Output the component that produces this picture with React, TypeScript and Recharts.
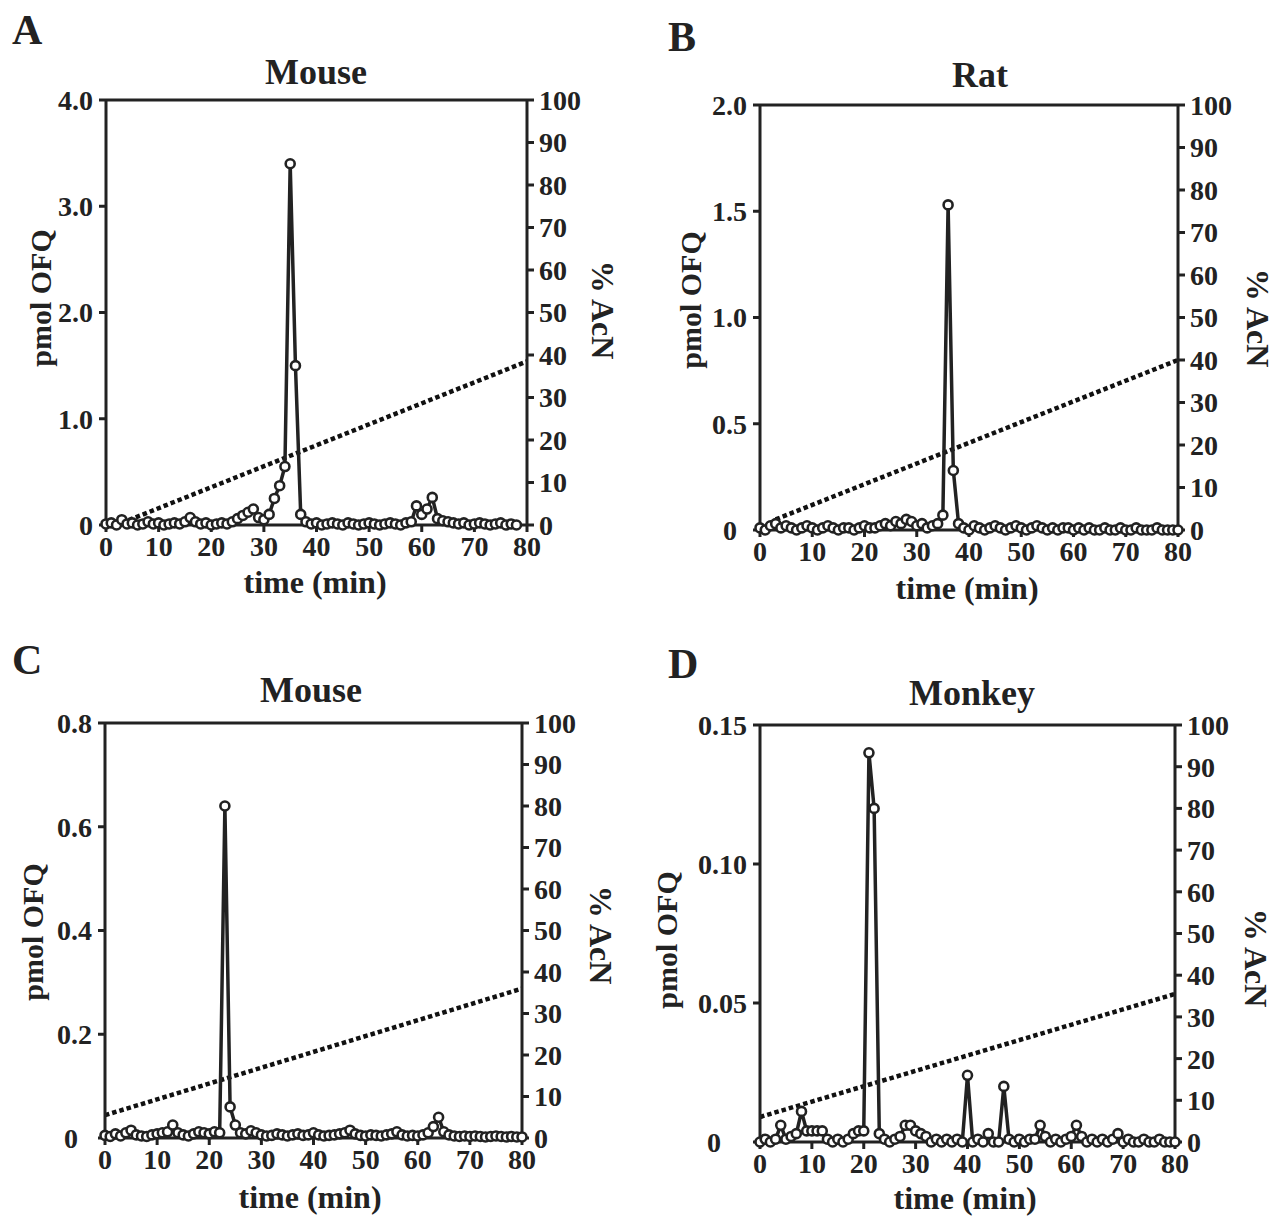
import React from 'react';
import { LineChart, Line, XAxis, YAxis, ReferenceLine } from 'recharts';

// ---------- data ----------
const TIME = [
  0, 1, 2, 3, 4, 5, 6, 7, 8, 9, 10, 11, 12, 13, 14, 15, 16, 17, 18, 19,
  20, 21, 22, 23, 24, 25, 26, 27, 28, 29, 30, 31, 32, 33, 34, 35, 36, 37, 38, 39,
  40, 41, 42, 43, 44, 45, 46, 47, 48, 49, 50, 51, 52, 53, 54, 55, 56, 57, 58, 59,
  60, 61, 62, 63, 64, 65, 66, 67, 68, 69, 70, 71, 72, 73, 74, 75, 76, 77, 78, 79, 80,
];

const OFQ_A = [
  0.01, 0.02, 0.0, 0.05, 0.01, 0.02, 0.0, 0.01, 0.03, 0.01,
  0.02, 0.0, 0.01, 0.02, 0.01, 0.03, 0.07, 0.03, 0.01, 0.02,
  0.0, 0.01, 0.02, 0.01, 0.03, 0.06, 0.09, 0.12, 0.15, 0.07,
  0.05, 0.1, 0.25, 0.37, 0.55, 3.4, 1.5, 0.1, 0.03, 0.01,
  0.02, 0.0, 0.01, 0.02, 0.01, 0.0, 0.02, 0.01, 0.0, 0.01,
  0.02, 0.01, 0.0, 0.01, 0.02, 0.01, 0.0, 0.02, 0.03, 0.18,
  0.1, 0.15, 0.26, 0.06, 0.04, 0.03, 0.02, 0.01, 0.02, 0.0,
  0.01, 0.02, 0.01, 0.0, 0.01, 0.02, 0.0, 0.01, 0.0,
];

const OFQ_B = [
  0.01, 0.0, 0.02, 0.03, 0.01, 0.02, 0.01, 0.0, 0.01, 0.02,
  0.01, 0.0, 0.01, 0.02, 0.01, 0.0, 0.01, 0.01, 0.0, 0.01,
  0.02, 0.01, 0.01, 0.02, 0.03, 0.02, 0.04, 0.03, 0.05, 0.04,
  0.02, 0.03, 0.01, 0.02, 0.03, 0.07, 1.53, 0.28, 0.03, 0.01,
  0.0, 0.02, 0.01, 0.0, 0.01, 0.02, 0.01, 0.0, 0.01, 0.02,
  0.01, 0.0, 0.01, 0.02, 0.01, 0.0, 0.01, 0.0, 0.01, 0.01,
  0.0, 0.01, 0.0, 0.01, 0.0, 0.0, 0.01, 0.0, 0.0, 0.01,
  0.0, 0.0, 0.01, 0.0, 0.0, 0.0, 0.01, 0.0, 0.0, 0.0,
  0.0,
];

const OFQ_C = [
  0.005, 0.003, 0.008, 0.004, 0.01, 0.015, 0.006, 0.004, 0.003, 0.006,
  0.008, 0.01, 0.012, 0.025, 0.01, 0.006, 0.004, 0.008, 0.012, 0.01,
  0.008, 0.012, 0.01, 0.64, 0.06, 0.025, 0.01, 0.008, 0.014, 0.01,
  0.006, 0.004, 0.005, 0.008, 0.006, 0.004, 0.006, 0.008, 0.005, 0.006,
  0.01, 0.006, 0.004, 0.005, 0.006, 0.008, 0.01, 0.015, 0.008, 0.005,
  0.004, 0.006, 0.005, 0.004, 0.006, 0.008, 0.012, 0.006, 0.004, 0.005,
  0.004, 0.006, 0.01, 0.022, 0.04, 0.012, 0.006, 0.004, 0.003, 0.004,
  0.003, 0.004, 0.003, 0.002, 0.003, 0.004, 0.003, 0.002, 0.003, 0.002,
  0.002,
];

const OFQ_D = [
  0.0, 0.001, 0.0, 0.001, 0.006, 0.001, 0.002, 0.003, 0.011, 0.004,
  0.004, 0.004, 0.004, 0.001, 0.0, 0.001, 0.0, 0.001, 0.003, 0.004,
  0.004, 0.14, 0.12, 0.003, 0.001, 0.0, 0.001, 0.002, 0.006, 0.006,
  0.004, 0.003, 0.002, 0.0, 0.001, 0.0, 0.001, 0.0, 0.001, 0.0,
  0.024, 0.0, 0.001, 0.0, 0.003, 0.0, 0.0, 0.02, 0.001, 0.0,
  0.001, 0.0, 0.001, 0.001, 0.006, 0.002, 0.0, 0.001, 0.0, 0.001,
  0.002, 0.006, 0.002, 0.0, 0.001, 0.0, 0.001, 0.0, 0.001, 0.003,
  0.0, 0.001, 0.0, 0.0, 0.001, 0.0, 0.0, 0.001, 0.0, 0.0,
  0.0,
];

// acetonitrile gradient (time, %)
const GRAD_TIME_A = [3, 80];
const GRAD_PCT_A = [0.5, 38.5];
const GRAD_TIME_B = [3, 80];
const GRAD_PCT_B = [2.5, 40];
const GRAD_TIME_C = [0, 80];
const GRAD_PCT_C = [5.5, 36];
const GRAD_TIME_D = [0, 80];
const GRAD_PCT_D = [6, 35.5];

const X_TICKS = [0, 10, 20, 30, 40, 50, 60, 70, 80];
const ACN_TICKS = [0, 10, 20, 30, 40, 50, 60, 70, 80, 90, 100];

const Y_TICKS_A = [0, 1, 2, 3, 4];
const Y_LABELS_A = ['0', '1.0', '2.0', '3.0', '4.0'];
const Y_TICKS_B = [0, 0.5, 1, 1.5, 2];
const Y_LABELS_B = ['0', '0.5', '1.0', '1.5', '2.0'];
const Y_TICKS_C = [0, 0.2, 0.4, 0.6, 0.8];
const Y_LABELS_C = ['0', '0.2', '0.4', '0.6', '0.8'];
const Y_TICKS_D = [0, 0.05, 0.1, 0.15];
const Y_LABELS_D = ['0', '0.05', '0.10', '0.15'];

const TITLES = ['Mouse', 'Rat', 'Mouse', 'Monkey'];
const LETTERS = ['A', 'B', 'C', 'D'];
const Y_TITLE = 'pmol OFQ';
const Y2_TITLE = '% AcN';
const X_TITLE = 'time (min)';

// ---------- helpers ----------
const zip = (ts: number[], vs: number[]) => vs.map((v, i) => ({ t: ts[i], v }));

const INK = '#222';
const FONT = '"Liberation Serif", "Times New Roman", serif';

type PanelCfg = {
  pl: number; pt: number; pr: number; pb: number;
  ofq: { t: number; v: number }[];
  grad: { t: number; v: number }[];
  yTicks: number[]; yLabels: string[];
  zeroDx: number;
};

const WL = 80, WR = 70, HX = 45;

function Panel({ cfg }: { cfg: PanelCfg }) {
  const { pl, pt, pr, pb } = cfg;
  const W = pr - pl + 200;
  const H = pb - pt + 80;
  const yMax = cfg.yTicks[cfg.yTicks.length - 1];
  const tickStyle = { fill: INK, fontSize: 28, fontFamily: FONT, fontWeight: 700 };
  const axisLine = { stroke: INK, strokeWidth: 3 };
  const tickLine = { stroke: INK, strokeWidth: 3 };
  const leftTick = (props: any) => {
    const { x, y, payload } = props;
    const v = payload.value;
    const i = cfg.yTicks.indexOf(v);
    const label = i >= 0 ? cfg.yLabels[i] : String(v);
    const dx = v === 0 ? cfg.zeroDx : 0;
    return (
      <text
        x={x + dx}
        y={y}
        dy="0.355em"
        textAnchor="end"
        fill={INK}
        fontSize={28}
        fontFamily={FONT}
        fontWeight={700}
      >
        {label}
      </text>
    );
  };
  return (
    <div style={{ position: 'absolute', left: pl - 100, top: pt - 20 }}>
      <LineChart
        width={W}
        height={H}
        margin={{ top: 20, left: 100 - WL, right: 100 - WR, bottom: 60 - HX }}
      >
        <XAxis
          dataKey="t"
          type="number"
          domain={[0, 80]}
          ticks={X_TICKS}
          interval={0}
          height={HX}
          tick={tickStyle}
          tickSize={7}
          tickMargin={4}
          axisLine={axisLine}
          tickLine={tickLine}
          allowDuplicatedCategory={false}
        />
        <YAxis
          yAxisId="left"
          type="number"
          domain={[0, yMax]}
          ticks={cfg.yTicks}
          interval={0}
          width={WL}
          tick={leftTick}
          tickSize={7}
          tickMargin={6}
          axisLine={axisLine}
          tickLine={tickLine}
        />
        <YAxis
          yAxisId="right"
          orientation="right"
          type="number"
          domain={[0, 100]}
          ticks={ACN_TICKS}
          interval={0}
          width={WR}
          tick={tickStyle}
          tickSize={7}
          tickMargin={5}
          axisLine={axisLine}
          tickLine={tickLine}
        />
        <ReferenceLine yAxisId="left" y={yMax} stroke={INK} strokeWidth={3} />
        <Line
          yAxisId="right"
          data={cfg.grad}
          dataKey="v"
          type="linear"
          stroke="#111"
          strokeWidth={4.5}
          strokeDasharray="4.5 3"
          dot={false}
          isAnimationActive={false}
        />
        <Line
          yAxisId="left"
          data={cfg.ofq}
          dataKey="v"
          type="linear"
          stroke={INK}
          strokeWidth={3.5}
          dot={{ r: 4.5, stroke: INK, strokeWidth: 2.6, fill: '#fff' }}
          isAnimationActive={false}
        />
      </LineChart>
    </div>
  );
}

function Txt({ x, y, size, children, rot = 0, left = false }: any) {
  return (
    <div
      style={{
        position: 'absolute',
        left: x,
        top: y,
        transform: left
          ? 'translate(0,-50%)'
          : `translate(-50%,-50%) rotate(${rot}deg)`,
        fontFamily: FONT,
        fontWeight: 700,
        fontSize: size,
        lineHeight: 1,
        whiteSpace: 'nowrap',
        color: INK,
      }}
    >
      {children}
    </div>
  );
}

const PANELS: PanelCfg[] = [
  { pl: 106, pt: 100, pr: 527, pb: 525, ofq: zip(TIME, OFQ_A), grad: zip(GRAD_TIME_A, GRAD_PCT_A), yTicks: Y_TICKS_A, yLabels: Y_LABELS_A, zeroDx: 0 },
  { pl: 760, pt: 105, pr: 1178, pb: 530, ofq: zip(TIME, OFQ_B), grad: zip(GRAD_TIME_B, GRAD_PCT_B), yTicks: Y_TICKS_B, yLabels: Y_LABELS_B, zeroDx: -10 },
  { pl: 105, pt: 723, pr: 522, pb: 1138, ofq: zip(TIME, OFQ_C), grad: zip(GRAD_TIME_C, GRAD_PCT_C), yTicks: Y_TICKS_C, yLabels: Y_LABELS_C, zeroDx: -14 },
  { pl: 760, pt: 725, pr: 1175, pb: 1142, ofq: zip(TIME, OFQ_D), grad: zip(GRAD_TIME_D, GRAD_PCT_D), yTicks: Y_TICKS_D, yLabels: Y_LABELS_D, zeroDx: -26 },
];

// text anchor points
const LETTER_POS = [[12, 30], [668, 37], [12, 660], [668, 664]];
const TITLE_POS = [[316, 72], [980, 75], [311, 690], [972, 693]];
const YT_POS = [[41, 298], [691, 300], [33, 932], [667, 940]];
const Y2T_POS = [[603, 310], [1258, 318], [601, 935], [1256, 958]];
const XT_POS = [[315, 582], [967, 588], [310, 1197], [965, 1198]];

export default function App() {
  return (
    <div
      style={{
        position: 'absolute',
        left: 0,
        top: 0,
        width: 1276,
        height: 1216,
        background: '#fff',
        overflow: 'hidden',
      }}
    >
      {PANELS.map((p, i) => (
        <Panel key={i} cfg={p} />
      ))}
      {PANELS.map((_, i) => (
        <React.Fragment key={'t' + i}>
          <Txt x={LETTER_POS[i][0]} y={LETTER_POS[i][1]} size={42} left>
            {LETTERS[i]}
          </Txt>
          <Txt x={TITLE_POS[i][0]} y={TITLE_POS[i][1]} size={36}>
            {TITLES[i]}
          </Txt>
          <Txt x={YT_POS[i][0]} y={YT_POS[i][1]} size={30} rot={-90}>
            {Y_TITLE}
          </Txt>
          <Txt x={Y2T_POS[i][0]} y={Y2T_POS[i][1]} size={32} rot={90}>
            {Y2_TITLE}
          </Txt>
          <Txt x={XT_POS[i][0]} y={XT_POS[i][1]} size={32}>
            {X_TITLE}
          </Txt>
        </React.Fragment>
      ))}
    </div>
  );
}
